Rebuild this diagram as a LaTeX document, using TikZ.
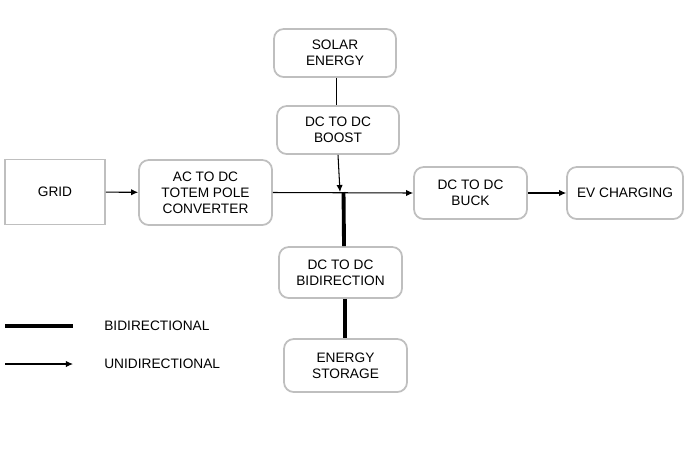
\documentclass[tikz,border=0pt]{standalone}
\usepackage{fontspec}
\setmainfont{Liberation Sans}
\usetikzlibrary{arrows.meta}

\tikzset{
	blk/.style={draw=black!25, line width=1pt, rounded corners=5.5pt, align=center, font=\fontsize{7.8}{9.2}\selectfont, inner sep=1pt},
	sqblk/.style={blk, rounded corners=0pt},
	uni/.style={line width=0.6pt, -{Latex[length=4pt,width=3.6pt]}},
	bi/.style={line width=2.2pt},
	legtxt/.style={anchor=west, font=\fontsize{7.8}{9.2}\selectfont, inner sep=0pt}
}

\begin{document}
\begin{tikzpicture}[x=0.02cm,y=-0.02cm]
	\useasboundingbox (0,0) rectangle (688,454);

	\node[sqblk, minimum width=2cm, minimum height=1.3cm] (grid) at (55,192) {GRID};
	\node[blk, minimum width=2.66cm, minimum height=1.3cm] (acdc) at (205.5,192.5) {AC TO DC\\TOTEM POLE\\CONVERTER};
	\node[blk, minimum width=2.44cm, minimum height=0.96cm] (solar) at (335,53) {SOLAR\\ENERGY};
	\node[blk, minimum width=2.44cm, minimum height=0.96cm] (boost) at (338,130) {DC TO DC\\BOOST};
	\node[blk, minimum width=2.26cm, minimum height=1.04cm] (buck) at (470.5,193) {DC TO DC\\BUCK};
	\node[blk, minimum width=2.32cm, minimum height=1.04cm] (ev) at (625,193) {EV CHARGING};
	\node[blk, minimum width=2.46cm, minimum height=1.02cm] (bidir) at (340.5,272.5) {DC TO DC\\BIDIRECTION};
	\node[blk, minimum width=2.46cm, minimum height=1.06cm] (storage) at (345.5,365.5) {ENERGY\\STORAGE};

	\coordinate (bus) at (340,192);

	% flows
	\draw[uni] (grid) -- (acdc);
	\draw[uni] (acdc.east) -- (buck.west);
	\draw[line width=0.6pt] ([xshift=-1pt]boost.north |- solar.south) -- ([xshift=-1pt]boost.north);
	\draw[uni] (boost.south) -- (bus);
	\draw[uni] (buck) -- (ev);
	\draw[bi] ([xshift=2pt]bus) -- ([xshift=2pt]bidir.north);
	\draw[bi] ([xshift=2.5pt]bidir.south) -- ([xshift=2.5pt]storage.north -| bidir.south);

	% legend
	\coordinate (bia) at (5,326);
	\coordinate (bib) at (73,326);
	\coordinate (unia) at (5,364);
	\coordinate (unib) at (73,364);
	\draw[bi, line width=2.4pt] (bia) -- (bib);
	\draw[uni] (unia) -- (unib);
	\node[legtxt] (bilbl) at (104,326) {BIDIRECTIONAL};
	\node[legtxt] (unilbl) at (104,364) {UNIDIRECTIONAL};
\end{tikzpicture}
\end{document}
